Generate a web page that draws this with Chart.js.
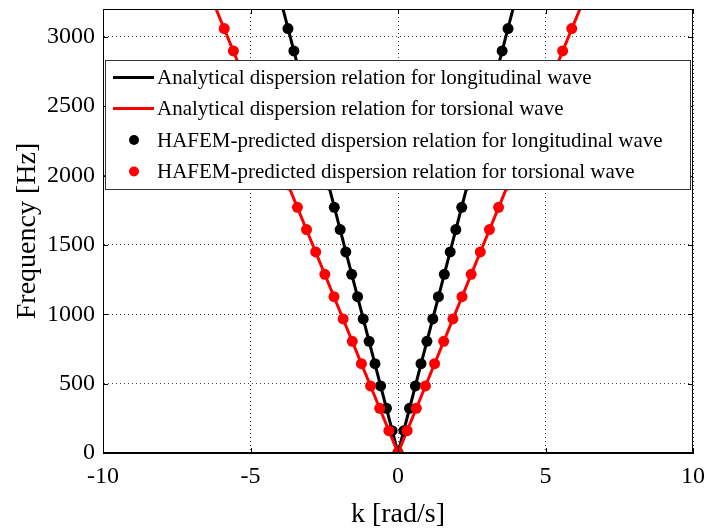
<!DOCTYPE html>
<html>
<head>
<meta charset="utf-8">
<title>Dispersion relations</title>
<script src="https://cdn.jsdelivr.net/npm/chart.js@4.4.1/dist/chart.umd.min.js"></script>
<style>
  html, body { margin: 0; padding: 0; background: #fff; }
  #wrap { width: 707px; height: 531px; }
</style>
</head>
<body>
<div id="wrap"><canvas id="dispersion_chart" width="707" height="531"></canvas></div>
<script>
// frequencies solved by HAFEM, and the wavenumbers found for each mode
const freqHz = [0, 161, 322, 483, 644, 805, 966, 1127, 1288, 1449, 1610, 1771, 1932, 2093, 2254, 2415, 2576, 2737, 2898, 3059];
const kLongitudinal = [0, 0.20, 0.39, 0.59, 0.78, 0.98, 1.18, 1.37, 1.57, 1.77, 1.96, 2.16, 2.35, 2.55, 2.75, 2.94, 3.14, 3.33, 3.53, 3.73];
const kTorsional = [0, 0.31, 0.62, 0.93, 1.24, 1.55, 1.86, 2.17, 2.48, 2.79, 3.10, 3.41, 3.72, 4.03, 4.34, 4.65, 4.96, 5.27, 5.58, 5.89];

// analytical curves (straight lines through the origin)
const lineFreq = [3300, 0, 3300];
const lineKLongitudinal = [-4.02, 0, 4.02];
const lineKTorsional = [-6.36, 0, 6.36];

const xTicks = [-10, -5, 0, 5, 10];
const yTicks = [0, 500, 1000, 1500, 2000, 2500, 3000];

const legendLabels = [
    'Analytical dispersion relation for longitudinal wave',
    'Analytical dispersion relation for torsional wave',
    'HAFEM-predicted dispersion relation for longitudinal wave',
    'HAFEM-predicted dispersion relation for torsional wave'
];

const serif = "'Liberation Serif', 'Times New Roman', serif";

function linePoints(ks, fs) {
    return ks.map((k, i) => ({ x: k, y: fs[i] }));
}

// both branches (negative and positive k) for the predicted points
function branchPoints(ks, fs) {
    const left = ks.map((k, i) => ({ x: -k, y: fs[i] }));
    const right = ks.map((k, i) => ({ x: k, y: fs[i] }));
    return left.concat(right);
}

// frame, inward ticks and the legend box
const framePlugin = {
    id: 'frame',
    afterDraw(chart) {
        const ctx = chart.ctx;
        const a = chart.chartArea;
        const xs = chart.scales.x, ys = chart.scales.y;
        ctx.save();
        ctx.strokeStyle = '#000';
        ctx.lineWidth = 1;
        ctx.strokeRect(a.left + 0.5, a.top + 0.5, a.right - a.left - 1, a.bottom - a.top - 1);
        ctx.beginPath();
        xTicks.forEach(v => {
            const px = Math.round(xs.getPixelForValue(v)) + 0.5;
            ctx.moveTo(px, a.bottom); ctx.lineTo(px, a.bottom - 5);
            ctx.moveTo(px, a.top); ctx.lineTo(px, a.top + 5);
        });
        yTicks.forEach(v => {
            const py = Math.round(ys.getPixelForValue(v)) + 0.5;
            ctx.moveTo(a.left, py); ctx.lineTo(a.left + 5, py);
            ctx.moveTo(a.right, py); ctx.lineTo(a.right - 5, py);
        });
        ctx.stroke();

        // legend
        const bx = 105, by = 60, bw = 585, bh = 129;
        ctx.fillStyle = '#fff';
        ctx.fillRect(bx, by, bw, bh);
        ctx.strokeStyle = '#333';
        ctx.strokeRect(bx + 0.5, by + 0.5, bw, bh);
        const rows = [77.5, 108.5, 140, 171.5];
        const colors = ['#000', '#ff0000', '#000', '#ff0000'];
        ctx.font = '21px ' + serif;
        ctx.textBaseline = 'middle';
        rows.forEach((ry, i) => {
            if (i < 2) {
                ctx.strokeStyle = colors[i];
                ctx.lineWidth = 3;
                ctx.beginPath();
                ctx.moveTo(113, ry); ctx.lineTo(154, ry);
                ctx.stroke();
            } else {
                ctx.fillStyle = colors[i];
                ctx.beginPath();
                ctx.arc(134, ry, 5, 0, Math.PI * 2);
                ctx.fill();
            }
            ctx.fillStyle = '#000';
            ctx.fillText(legendLabels[i], 157, ry + 1);
        });
        ctx.restore();
    }
};

const ctx = document.getElementById('dispersion_chart').getContext('2d');

new Chart(ctx, {
    type: 'scatter',
    data: {
        datasets: [{
            label: legendLabels[3],
            data: branchPoints(kTorsional, freqHz),
            backgroundColor: '#ff0000',
            borderColor: '#ff0000',
            pointRadius: 5.5,
            pointBorderWidth: 0,
            showLine: false,
            order: 0
        }, {
            label: legendLabels[2],
            data: branchPoints(kLongitudinal, freqHz),
            backgroundColor: '#000',
            borderColor: '#000',
            pointRadius: 5.5,
            pointBorderWidth: 0,
            showLine: false,
            order: 1
        }, {
            label: legendLabels[1],
            data: linePoints(lineKTorsional, lineFreq),
            borderColor: '#ff0000',
            borderWidth: 3,
            pointRadius: 0,
            showLine: true,
            order: 2
        }, {
            label: legendLabels[0],
            data: linePoints(lineKLongitudinal, lineFreq),
            borderColor: '#000',
            borderWidth: 3,
            pointRadius: 0,
            showLine: true,
            order: 3
        }]
    },
    options: {
        responsive: false,
        animation: false,
        devicePixelRatio: 1,
        layout: {
            padding: { top: 9, right: 14, left: 0, bottom: 0 }
        },
        plugins: {
            legend: { display: false },
            tooltip: { enabled: false }
        },
        scales: {
            x: {
                type: 'linear',
                min: -10,
                max: 10,
                afterBuildTicks: s => { s.ticks = xTicks.map(v => ({ value: v })); },
                afterFit: s => {
                    s.height = 78;
                    s.paddingLeft = 0;
                    s.paddingRight = 0;
                },
                ticks: {
                    color: '#000',
                    padding: 9,
                    font: { family: serif, size: 24 },
                    callback: v => String(v)
                },
                grid: { color: 'rgba(0,0,0,0.75)', lineWidth: 1, drawTicks: false },
                border: { display: true, color: '#000', dash: [1, 3] },
                title: {
                    display: true,
                    text: 'k [rad/s]',
                    color: '#000',
                    font: { family: serif, size: 28 },
                    padding: { top: 0, bottom: 0 }
                }
            },
            y: {
                type: 'linear',
                min: 0,
                max: 3200,
                afterBuildTicks: s => { s.ticks = yTicks.map(v => ({ value: v })); },
                afterFit: s => {
                    s.width = 103;
                    s.paddingTop = 0;
                    s.paddingBottom = 0;
                },
                ticks: {
                    color: '#000',
                    padding: 8,
                    font: { family: serif, size: 24 },
                    callback: v => String(v)
                },
                grid: { color: 'rgba(0,0,0,0.75)', lineWidth: 1, drawTicks: false },
                border: { display: true, color: '#000', dash: [1, 3] },
                title: {
                    display: true,
                    text: 'Frequency [Hz]',
                    color: '#000',
                    font: { family: serif, size: 28 },
                    padding: { top: 11, bottom: 0 }
                }
            }
        }
    },
    plugins: [framePlugin]
});
</script>
</body>
</html>
